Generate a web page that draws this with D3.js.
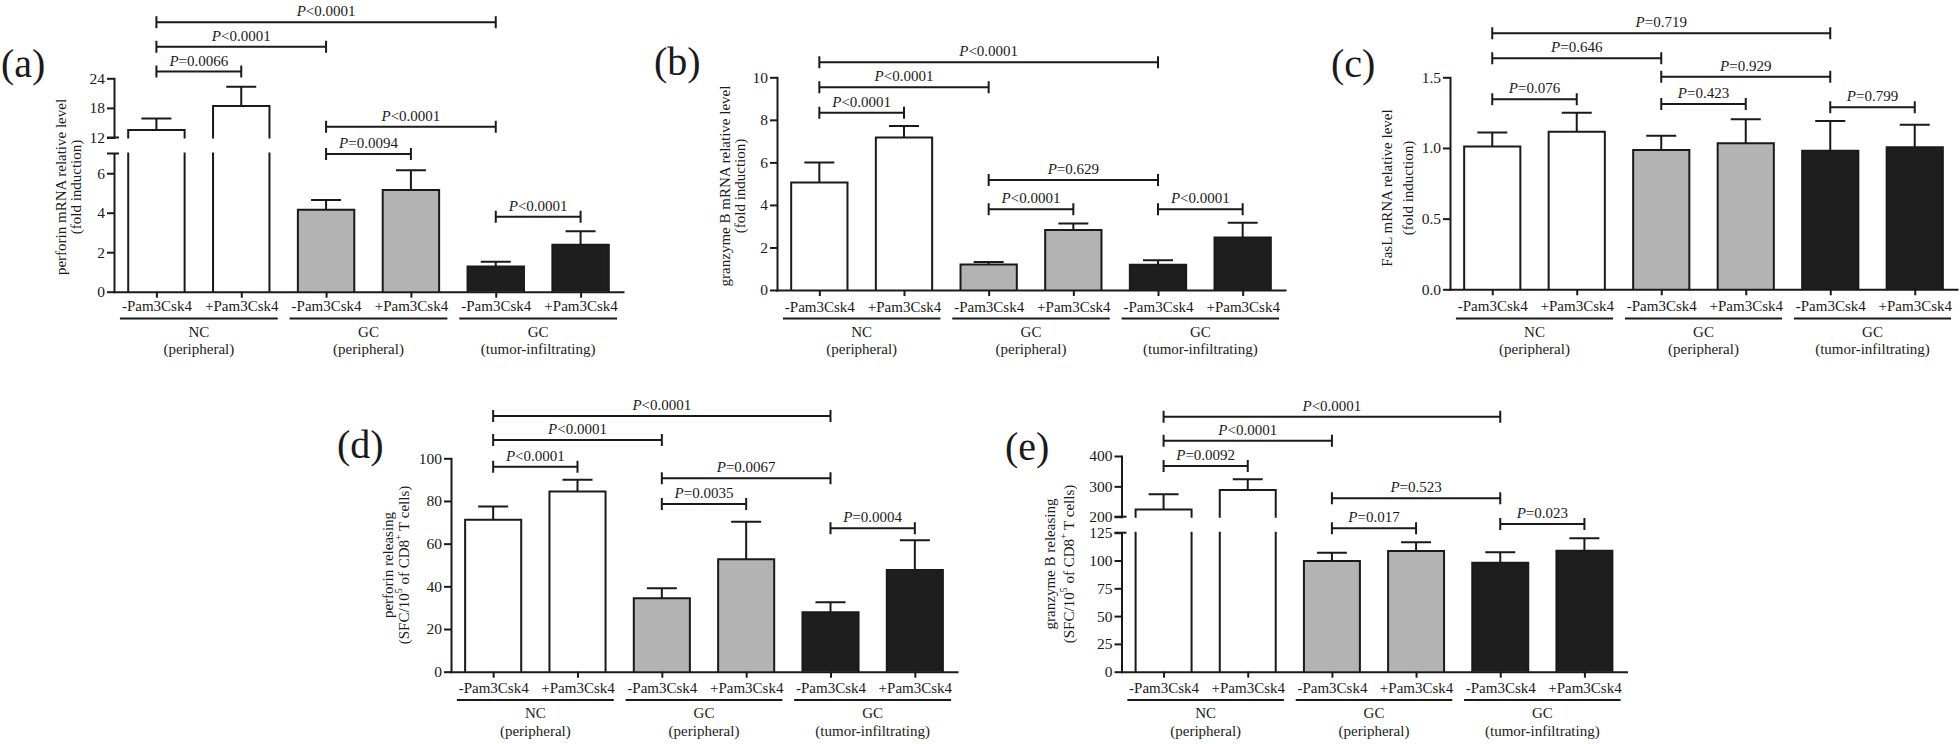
<!DOCTYPE html>
<html><head><meta charset="utf-8">
<script src="https://cdn.jsdelivr.net/npm/d3@7"></script>
<style>
html,body{margin:0;padding:0;background:#fff;}
svg{display:block;}
text{font-family:"Liberation Serif","Times New Roman",serif;fill:#1a1a1a;}
</style></head><body>
<svg id="chart" width="1960" height="744"></svg>
<script>
// ---------- shared categories ----------
const categories = ["-Pam3Csk4", "+Pam3Csk4", "-Pam3Csk4", "+Pam3Csk4", "-Pam3Csk4", "+Pam3Csk4"];
const groupNames = ["NC", "GC", "GC"];
const groupSites = ["(peripheral)", "(peripheral)", "(tumor-infiltrating)"];
const comparisons = [[0, 1], [0, 2], [0, 4], [2, 3], [2, 4], [4, 5]];

// ---------- (a) perforin mRNA ----------
const perforinMrnaMean = [13.5, 18.4, 4.15, 5.15, 1.28, 2.38];
const perforinMrnaSD = [2.35, 3.9, 0.5, 1.0, 0.24, 0.68];
const perforinMrnaTicksLow = [0, 2, 4, 6];
const perforinMrnaTicksHigh = [12, 18, 24];
const perforinMrnaP = ["=0.0066", "<0.0001", "<0.0001", "=0.0094", "<0.0001", "<0.0001"];

// ---------- (b) granzyme B mRNA ----------
const granzymeMrnaMean = [5.05, 7.17, 1.2, 2.82, 1.19, 2.47];
const granzymeMrnaSD = [0.95, 0.54, 0.12, 0.31, 0.21, 0.69];
const granzymeMrnaTicks = [0, 2, 4, 6, 8, 10];
const granzymeMrnaP = ["<0.0001", "<0.0001", "<0.0001", "<0.0001", "=0.629", "<0.0001"];

// ---------- (c) FasL mRNA ----------
const faslMrnaMean = [1.01, 1.115, 0.986, 1.033, 0.981, 1.005];
const faslMrnaSD = [0.1, 0.135, 0.1, 0.17, 0.21, 0.16];
const faslMrnaTicks = [0, 0.5, 1.0, 1.5];
const faslMrnaP = ["=0.076", "=0.646", "=0.719", "=0.423", "=0.929", "=0.799"];

// ---------- (d) perforin releasing ----------
const perforinRelMean = [71.2, 84.4, 34.4, 52.7, 27.8, 47.7];
const perforinRelSD = [6.2, 5.5, 4.7, 17.6, 4.7, 13.9];
const perforinRelTicks = [0, 20, 40, 60, 80, 100];
const perforinRelP = ["<0.0001", "<0.0001", "<0.0001", "=0.0035", "=0.0067", "=0.0004"];

// ---------- (e) granzyme B releasing ----------
const granzymeRelMean = [224, 288, 99.6, 108.5, 98, 108.8];
const granzymeRelSD = [50, 35, 7.4, 7.9, 9.4, 11.2];
const granzymeRelTicksLow = [0, 25, 50, 75, 100, 125];
const granzymeRelTicksHigh = [200, 300, 400];
const granzymeRelP = ["=0.0092", "<0.0001", "<0.0001", "=0.017", "=0.523", "=0.023"];

// ---------- styles ----------
const INK = "#1a1a1a";
const groupFills = ["#ffffff", "#b3b3b3", "#1e1e1e"];
const FONT = "'Liberation Serif','Times New Roman',serif";

const svg = d3.select("#chart");

const topRow = {tickY: 311.5, groupLineY: 318.5};
const botRow = {tickY: 693, groupLineY: 700};

const panels = [
  {label: "(a)", labelPos: [1, 76.5], mean: perforinMrnaMean, sd: perforinMrnaSD, p: perforinMrnaP,
   xRange: [114, 623], fmt: d3.format("d"),
   segments: [{domain: [0, 7], range: [291.7, 153.5], ticks: perforinMrnaTicksLow},
              {domain: [12, 24], range: [137.5, 78.3], ticks: perforinMrnaTicksHigh}],
   bracketY: [71.5, 46.7, 22.3, 154, 126.7, 216.7],
   yTitle: [[{t: "perforin mRNA relative level"}], [{t: "(fold induction)"}]], yTitleX: [61, 76], yTitleY: 187, row: topRow},
  {label: "(b)", labelPos: [654, 75], mean: granzymeMrnaMean, sd: granzymeMrnaSD, p: granzymeMrnaP,
   xRange: [777, 1285], fmt: d3.format("d"),
   segments: [{domain: [0, 10], range: [290, 77.3], ticks: granzymeMrnaTicks}],
   bracketY: [112.7, 87.3, 62.3, 209.3, 180, 209.3],
   yTitle: [[{t: "granzyme B mRNA relative level"}], [{t: "(fold induction)"}]], yTitleX: [725, 740], yTitleY: 186, row: topRow},
  {label: "(c)", labelPos: [1331, 76.5], mean: faslMrnaMean, sd: faslMrnaSD, p: faslMrnaP,
   xRange: [1450, 1957], fmt: d3.format(".1f"),
   segments: [{domain: [0, 1.5], range: [289.3, 77.3], ticks: faslMrnaTicks}],
   bracketY: [99.3, 58.3, 33.3, 104, 76.7, 107.3],
   yTitle: [[{t: "FasL mRNA relative level"}], [{t: "(fold induction)"}]], yTitleX: [1387, 1408], yTitleY: 188, row: topRow},
  {label: "(d)", labelPos: [337, 458], mean: perforinRelMean, sd: perforinRelSD, p: perforinRelP,
   xRange: [451, 957], fmt: d3.format("d"),
   segments: [{domain: [0, 100], range: [671.7, 458.3], ticks: perforinRelTicks}],
   bracketY: [466.7, 440, 416, 504, 478.3, 528.3],
   yTitle: [[{t: "perforin releasing"}],
            [{t: "(SFC/10"}, {t: "5", sup: true}, {t: " of CD8"}, {t: "+", sup: true}, {t: " T cells)"}]],
   yTitleX: [388, 404], yTitleY: 565, row: botRow},
  {label: "(e)", labelPos: [1005, 460], mean: granzymeRelMean, sd: granzymeRelSD, p: granzymeRelP,
   xRange: [1121.5, 1626.5], fmt: d3.format("d"),
   segments: [{domain: [0, 125], range: [671.7, 532.7], ticks: granzymeRelTicksLow},
              {domain: [200, 400], range: [516.7, 456], ticks: granzymeRelTicksHigh}],
   bracketY: [466, 440.7, 416.7, 528.3, 498.3, 524],
   yTitle: [[{t: "granzyme B releasing"}],
            [{t: "(SFC/10"}, {t: "5", sup: true}, {t: " of CD8"}, {t: "+", sup: true}, {t: " T cells)"}]],
   yTitleX: [1050, 1069], yTitleY: 564, row: botRow}
];

function styleAxis(sel, fontSize) {
  sel.attr("color", INK).attr("font-family", FONT).attr("font-size", fontSize);
  sel.selectAll("path.domain").attr("stroke-width", 2).attr("stroke-linecap", "square");
  sel.selectAll(".tick line").attr("stroke-width", 2);
  sel.selectAll("text").attr("fill", INK);
}

function drawPanel(P) {
  const g = svg.append("g");
  const x = d3.scalePoint().domain(d3.range(categories.length)).range(P.xRange).padding(0.5);
  const step = x.step();
  const bw = step * 0.665;
  const cap = 15;
  const axisX = P.xRange[0];
  const segs = P.segments.map(s => Object.assign({}, s, {scale: d3.scaleLinear().domain(s.domain).range(s.range)}));
  const baseY = segs[0].range[0];

  // bars
  P.mean.forEach((m, i) => {
    const fill = groupFills[Math.floor(i / 2)];
    const x0 = x(i) - bw / 2, x1 = x(i) + bw / 2;
    segs.forEach(s => {
      if (m <= s.domain[0]) return;
      const ends = m <= s.domain[1];
      const yb = s.scale(s.domain[0]);
      const yt = s.scale(ends ? m : s.domain[1]);
      g.append("rect").attr("x", x0).attr("y", yt).attr("width", bw).attr("height", yb - yt).attr("fill", fill);
      const d = ends ? `M${x0},${yb}V${yt}H${x1}V${yb}` : `M${x0},${yb}V${yt}M${x1},${yt}V${yb}`;
      g.append("path").attr("d", d).attr("fill", "none").attr("stroke", INK).attr("stroke-width", 2)
        .attr("stroke-linecap", "square");
      if (ends) {
        const ye = s.scale(m + P.sd[i]);
        g.append("path").attr("d", `M${x(i)},${yt}V${ye}M${x(i) - cap},${ye}H${x(i) + cap}`)
          .attr("fill", "none").attr("stroke", INK).attr("stroke-width", 2);
      }
    });
  });

  // y axis segments
  segs.forEach((s, k) => {
    const ax = g.append("g").attr("transform", `translate(${axisX},0)`)
      .call(d3.axisLeft(s.scale).tickValues(s.ticks).tickSize(7).tickSizeOuter(0).tickPadding(2).tickFormat(P.fmt));
    styleAxis(ax, 15.5);
  });
  // break caps
  for (let k = 0; k < segs.length - 1; k++) {
    [segs[k].range[1], segs[k + 1].range[0]].forEach(yy => {
      g.append("line").attr("x1", axisX - 7).attr("x2", axisX + 5).attr("y1", yy).attr("y2", yy)
        .attr("stroke", INK).attr("stroke-width", 2);
    });
  }

  // x axis
  const xa = g.append("g").attr("transform", `translate(0,${baseY})`)
    .call(d3.axisBottom(x).tickSize(6).tickSizeOuter(0).tickFormat(i => categories[i]));
  styleAxis(xa, 15);
  xa.selectAll("text").attr("dy", null).attr("y", P.row.tickY - baseY);

  // group lines and labels
  groupNames.forEach((name, gi) => {
    const xl = x(2 * gi) - step * 0.43, xr = x(2 * gi + 1) + step * 0.43;
    const cx = (xl + xr) / 2;
    g.append("line").attr("x1", xl).attr("x2", xr).attr("y1", P.row.groupLineY).attr("y2", P.row.groupLineY)
      .attr("stroke", INK).attr("stroke-width", 2);
    g.append("text").attr("x", cx).attr("y", P.row.groupLineY + 18).attr("text-anchor", "middle")
      .attr("font-size", 15).text(name);
    g.append("text").attr("x", cx).attr("y", P.row.groupLineY + 35.5).attr("text-anchor", "middle")
      .attr("font-size", 15).text(groupSites[gi]);
  });

  // significance brackets
  comparisons.forEach(([i, j], k) => {
    const y = P.bracketY[k], xa0 = x(i), xb = x(j);
    g.append("path").attr("d", `M${xa0},${y - 6}V${y + 6}M${xa0},${y}H${xb}M${xb},${y - 6}V${y + 6}`)
      .attr("fill", "none").attr("stroke", INK).attr("stroke-width", 2);
    const t = g.append("text").attr("x", (xa0 + xb) / 2).attr("y", y - 6).attr("text-anchor", "middle")
      .attr("font-size", 15);
    t.append("tspan").attr("font-style", "italic").text("P");
    t.append("tspan").text(P.p[k]);
  });

  // y title
  P.yTitle.forEach((parts, li) => {
    const t = g.append("text")
      .attr("transform", `translate(${P.yTitleX[li]},${P.yTitleY}) rotate(-90)`)
      .attr("text-anchor", "middle").attr("dominant-baseline", "central").attr("font-size", 15);
    let shifted = false;
    parts.forEach(p => {
      const ts = t.append("tspan").text(p.t);
      if (p.sup) { ts.attr("font-size", 10).attr("dy", -6); shifted = true; }
      else if (shifted) { ts.attr("dy", 6); shifted = false; }
    });
  });

  // panel label
  g.append("text").attr("x", P.labelPos[0]).attr("y", P.labelPos[1]).attr("font-size", 40).text(P.label);
}

panels.forEach(drawPanel);
</script>
</body></html>
